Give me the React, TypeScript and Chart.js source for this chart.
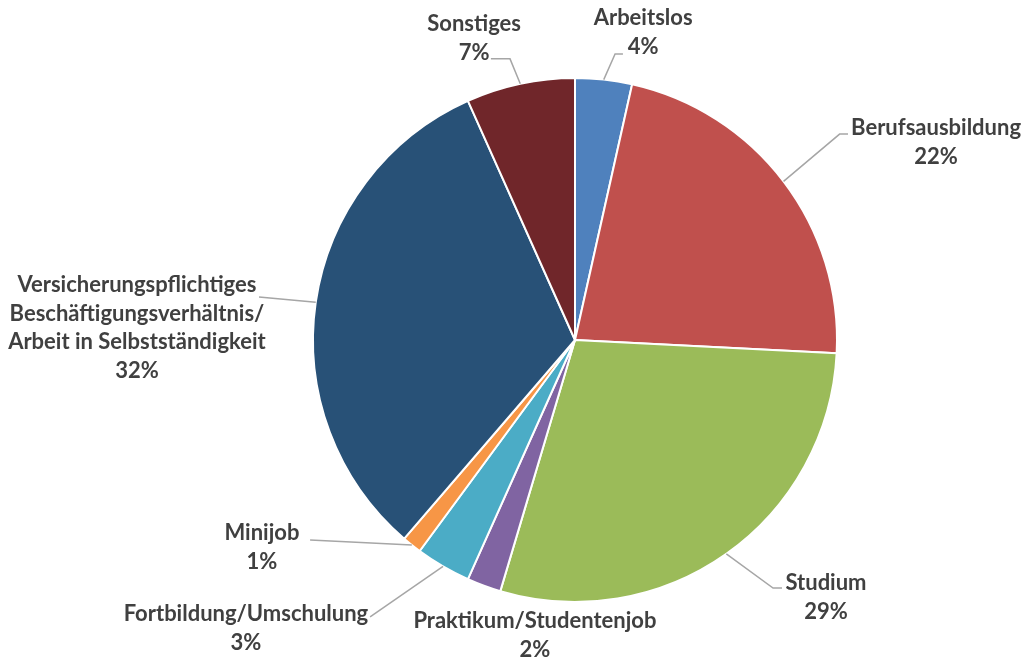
import React, { useEffect, useRef } from "react";
import { Chart, registerables } from "chart.js";

Chart.register(...registerables);

const categories: string[] = [
  "Arbeitslos",
  "Berufsausbildung",
  "Studium",
  "Praktikum/Studentenjob",
  "Fortbildung/Umschulung",
  "Minijob",
  "Versicherungspflichtiges\nBeschäftigungsverhältnis/\nArbeit in Selbstständigkeit",
  "Sonstiges",
];

const values: number[] = [3.5, 22.3, 28.8, 2.1, 3.4, 1.2, 32.0, 6.7];

const colors: string[] = [
  "#4F81BD",
  "#C0504D",
  "#9BBB59",
  "#8064A2",
  "#4BACC6",
  "#F79646",
  "#285177",
  "#70262A",
];

// Label placement (in units of the pie radius, relative to the pie centre)
type LabelPlace = {
  tx: number;
  ty: number;
  elbow?: [number, number];
  end?: [number, number];
};
const labelPlaces: LabelPlace[] = [
  { tx: 0.26, ty: -1.229, elbow: [0.153, -1.092], end: [0.183, -1.092] },
  { tx: 1.378, ty: -0.809, elbow: [1.01, -0.786], end: [1.042, -0.786] },
  { tx: 0.958, ty: 0.927, elbow: [0.756, 0.947], end: [0.79, 0.947] },
  { tx: -0.153, ty: 1.073 },
  { tx: -1.256, ty: 1.046, end: [-0.782, 1.057] },
  { tx: -1.195, ty: 0.737, end: [-1.011, 0.763] },
  { tx: -1.672, ty: -0.21, end: [-1.206, -0.164] },
  { tx: -0.385, ty: -1.206, elbow: [-0.248, -1.073], end: [-0.321, -1.073] },
];

const LABEL_FONT = "bold 22px Lato";
const LINE_H = 28.6;

const labelPlugin = {
  id: "outLabels",
  afterDraw(chart: any) {
    const ctx = chart.ctx as CanvasRenderingContext2D;
    const meta = chart.getDatasetMeta(0);
    const total = values.reduce((a, b) => a + b, 0);
    ctx.save();
    meta.data.forEach((arc: any, i: number) => {
      const p = arc.getProps(["x", "y", "startAngle", "endAngle", "outerRadius"], true);
      const cx = p.x;
      const cy = p.y;
      const r = p.outerRadius;
      const mid = (p.startAngle + p.endAngle) / 2;
      const place = labelPlaces[i];
      if (place.end) {
        ctx.beginPath();
        ctx.strokeStyle = "#A6A6A6";
        ctx.lineWidth = 1.5;
        ctx.moveTo(cx + Math.cos(mid) * r, cy + Math.sin(mid) * r);
        if (place.elbow) ctx.lineTo(cx + place.elbow[0] * r, cy + place.elbow[1] * r);
        ctx.lineTo(cx + place.end[0] * r, cy + place.end[1] * r);
        ctx.stroke();
      }
      const lines = categories[i].split("\n");
      lines.push(Math.round((values[i] / total) * 100 + 1e-6) + "%");
      ctx.font = LABEL_FONT;
      ctx.fillStyle = "#404040";
      ctx.textAlign = "center";
      ctx.textBaseline = "middle";
      const x = cx + place.tx * r;
      const y0 = cy + place.ty * r;
      lines.forEach((ln, k) => ctx.fillText(ln, x, y0 + k * LINE_H));
    });
    ctx.restore();
  },
};

export default function App() {
  const ref = useRef<HTMLCanvasElement | null>(null);
  useEffect(() => {
    if (!ref.current) return;
    const chart = new Chart(ref.current, {
      type: "pie",
      data: {
        labels: categories,
        datasets: [
          {
            data: values,
            backgroundColor: colors,
            borderColor: "#FFFFFF",
            borderWidth: 2,
            hoverBorderWidth: 2,
          },
        ],
      },
      options: {
        responsive: false,
        animation: false,
        devicePixelRatio: 1,
        layout: { padding: { left: 312, right: 186, top: 77, bottom: 54 } },
        plugins: {
          legend: { display: false },
          tooltip: { enabled: false },
          title: { display: false },
        },
      },
      plugins: [labelPlugin],
    });
    return () => chart.destroy();
  }, []);
  return (
    <div style={{ position: "absolute", left: 0, top: 0, width: 1024, height: 657, background: "#fff" }}>
      <canvas ref={ref} width={1024} height={657} style={{ display: "block" }} />
    </div>
  );
}
